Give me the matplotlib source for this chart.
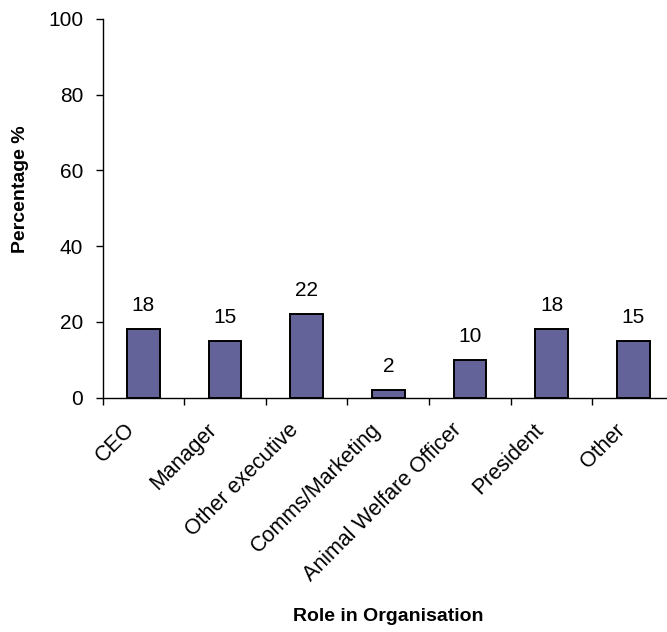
import matplotlib
matplotlib.use("Agg")
import matplotlib.pyplot as plt
from matplotlib.transforms import ScaledTranslation

roles = ["CEO", "Manager", "Other executive", "Comms/Marketing",
         "Animal Welfare Officer", "President", "Other"]
percentages = [18, 15, 22, 2, 10, 18, 15]
y_ticks = [0, 20, 40, 60, 80, 100]

plt.rcParams["font.family"] = ["Liberation Sans", "DejaVu Sans"]
FS = 15

fig = plt.figure(figsize=(6.67, 6.32), dpi=100)
ax = fig.add_axes([0.1537, 0.371, 0.857, 0.599])

x = list(range(len(roles)))
ax.bar(x, percentages, width=0.4, color="#636399",
       edgecolor="black", linewidth=1.4, zorder=3)

for xi, v in zip(x, percentages):
    ax.annotate(f"{v}", (xi, v), xytext=(0, 10), textcoords="offset points",
                ha="center", va="bottom", fontsize=FS)

ax.set_xlim(-0.5, len(roles) - 0.5)
ax.set_ylim(0, 100)
ax.set_yticks(y_ticks)
ax.set_xticks([i - 0.5 for i in x])
ax.set_xticklabels([])
ax.set_xticks(x, minor=True)
ax.set_xticklabels(roles, minor=True, rotation=45, ha="right", va="center",
                   rotation_mode="anchor", fontsize=FS + 0.5)
ax.tick_params(axis="x", which="minor", length=0, pad=21)
ax.tick_params(axis="x", which="major", length=5, width=1, direction="out")
ax.tick_params(axis="y", length=5, width=1, direction="out", labelsize=FS, pad=9)

shift = ScaledTranslation(-8 / 72, 0, fig.dpi_scale_trans)
for lbl in ax.get_xticklabels(minor=True):
    lbl.set_transform(lbl.get_transform() + shift)

for side in ("top", "right"):
    ax.spines[side].set_visible(False)
for side in ("left", "bottom"):
    ax.spines[side].set_linewidth(1)

ax.set_xlabel("Role in Organisation", fontsize=14, fontweight="bold", va="center")
ax.set_ylabel("Percentage %", fontsize=14, fontweight="bold", va="center")
ax.xaxis.set_label_coords(0.5, -0.579)
ax.yaxis.set_label_coords(-0.143, 0.55)

fig.savefig("out.png", dpi=100)
